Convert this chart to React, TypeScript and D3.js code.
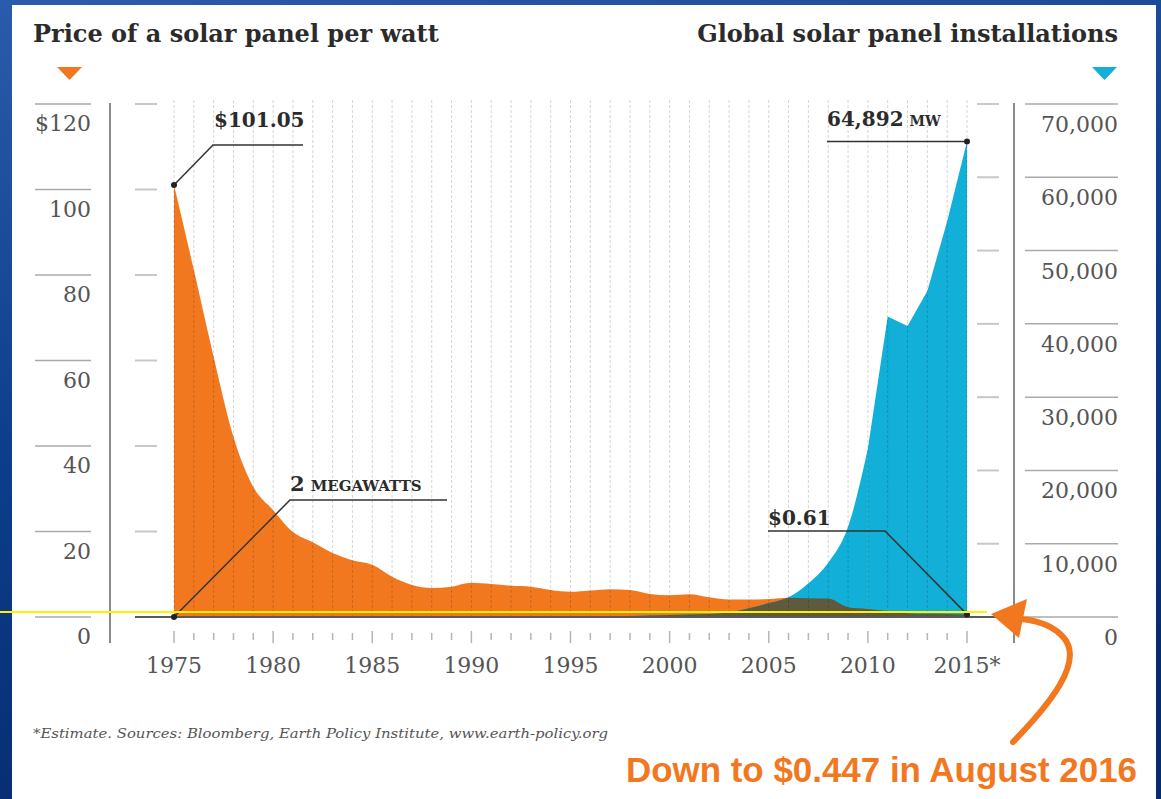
import React from 'react';
import * as d3 from 'd3';

// chart data
const years = [
  1975, 1976, 1977, 1978, 1979, 1980, 1981, 1982, 1983, 1984,
  1985, 1986, 1987, 1988, 1989, 1990, 1991, 1992, 1993, 1994,
  1995, 1996, 1997, 1998, 1999, 2000, 2001, 2002, 2003, 2004,
  2005, 2006, 2007, 2008, 2009, 2010, 2011, 2012, 2013, 2014, 2015,
];

// price per watt, US$
const pricePerWatt = [
  101.05, 81.2, 60.8, 42.1, 30.4, 25.0, 19.9, 17.5, 15.0, 13.3,
  12.2, 9.4, 7.5, 6.8, 7.1, 8.0, 7.7, 7.3, 7.1, 6.3,
  5.9, 6.2, 6.5, 6.3, 5.4, 5.1, 5.3, 4.6, 4.1, 4.1,
  4.2, 4.5, 4.4, 4.3, 2.3, 1.9, 1.4, 0.9, 0.75, 0.7, 0.61,
];

// global installations, MW
const installedMW = [
  2, 3, 4, 5, 6, 7, 9, 12, 16, 19,
  23, 26, 30, 34, 40, 46, 55, 58, 60, 69,
  78, 89, 126, 153, 201, 277, 350, 400, 650, 1200,
  1900, 2700, 4600, 7400, 12300, 23000, 41000, 39700, 44500, 54000, 64892,
];

const leftTicks = [0, 20, 40, 60, 80, 100, 120];
const rightTicks = [0, 10000, 20000, 30000, 40000, 50000, 60000, 70000];
const yearLabels = [1975, 1980, 1985, 1990, 1995, 2000, 2005, 2010, 2015];

const ORANGE = '#f2781f';
const CYAN = '#12b0d8';
const OLIVE = '#5d5a3d';
const SERIF = '"DejaVu Serif", serif';

const App = () => {
  const W = 1161;
  const H = 799;

  const x = d3.scaleLinear().domain([1975, 2015]).range([174, 967]);
  const yL = d3.scaleLinear().domain([0, 120]).range([617, 104]);
  const yR = d3.scaleLinear().domain([0, 70000]).range([617, 104]);

  const rows = years.map((yr, i) => ({ yr, price: pricePerWatt[i], mw: installedMW[i] }));

  const priceArea = d3.area<any>()
    .x(d => x(d.yr))
    .y0(yL(0))
    .y1(d => yL(d.price))
    .curve(d3.curveMonotoneX)(rows) as string;

  // installations: smooth growth up to 2010, then straight year-to-year segments
  const mwSmooth = d3.area<any>()
    .x(d => x(d.yr))
    .y0(yR(0))
    .y1(d => yR(d.mw))
    .curve(d3.curveMonotoneX)(rows.filter(d => d.yr <= 2010)) as string;
  const mwSharp = d3.area<any>()
    .x(d => x(d.yr))
    .y0(yR(0))
    .y1(d => yR(d.mw))(rows.filter(d => d.yr >= 2010)) as string;

  const fmt = d3.format(',');
  const last = rows[rows.length - 1];
  const first = rows[0];

  // annotation anchor points
  const pStart = { x: x(first.yr), y: yL(first.price) };
  const mStart = { x: x(first.yr), y: yR(first.mw) };
  const mEnd = { x: x(last.yr), y: yR(last.mw) };
  const pEnd = { x: x(last.yr), y: yL(last.price) };

  return (
    <div style={{ position: 'absolute', left: 0, top: 0 }}>
      <svg width={W} height={H} style={{ display: 'block' }}>
        <defs>
          <linearGradient id="bgGrad" x1="0" y1="0" x2="0.3" y2="1">
            <stop offset="0" stopColor="#2a5cab" />
            <stop offset="0.5" stopColor="#0d3f8c" />
            <stop offset="1" stopColor="#062c6e" />
          </linearGradient>
          <clipPath id="cyanClip">
            <path d={mwSmooth} />
            <path d={mwSharp} />
          </clipPath>
        </defs>

        {/* blue frame + white panel */}
        <rect x={0} y={0} width={W} height={H} fill="url(#bgGrad)" />
        <rect x={12} y={5} width={1144} height={H - 5} fill="#fff" />

        {/* titles */}
        <text x={33} y={42} fontFamily={SERIF} fontWeight="bold" fontSize={24} fill="#2b2b2b">
          Price of a solar panel per watt
        </text>
        <text x={1118} y={42} textAnchor="end" fontFamily={SERIF} fontWeight="bold" fontSize={24} fill="#2b2b2b">
          Global solar panel installations
        </text>
        <path d="M57,67 L82,67 L69.5,80 Z" fill={ORANGE} />
        <path d="M1092,67 L1117,67 L1104.5,80 Z" fill={CYAN} />

        {/* left axis */}
        <line x1={110} x2={110} y1={103} y2={643} stroke="#8a8a8a" strokeWidth={2} />
        {leftTicks.map(t => (
          <g key={'l' + t}>
            <line x1={35} x2={91} y1={yL(t)} y2={yL(t)} stroke="#aaa" strokeWidth={1.5} />
            {t > 0 && <line x1={135} x2={157} y1={yL(t)} y2={yL(t)} stroke="#c8c8c8" strokeWidth={2} />}
            <text x={91} y={yL(t) + 27} textAnchor="end" fontFamily={SERIF} fontSize={22} fill="#555">
              {t === 120 ? '$120' : t}
            </text>
          </g>
        ))}

        {/* right axis */}
        <line x1={1014} x2={1014} y1={103} y2={643} stroke="#8a8a8a" strokeWidth={2} />
        {rightTicks.map(t => (
          <g key={'r' + t}>
            <line x1={1025} x2={1118} y1={yR(t)} y2={yR(t)} stroke="#aaa" strokeWidth={1.5} />
            {t > 0 && <line x1={977} x2={999} y1={yR(t)} y2={yR(t)} stroke="#c8c8c8" strokeWidth={2} />}
            <text x={1118} y={yR(t) + 28} textAnchor="end" fontFamily={SERIF} fontSize={22} fill="#555">
              {fmt(t)}
            </text>
          </g>
        ))}

        {/* areas */}
        <path d={priceArea} fill={ORANGE} />
        <path d={mwSmooth} fill={CYAN} />
        <path d={mwSharp} fill={CYAN} />
        <path d={priceArea} fill={OLIVE} clipPath="url(#cyanClip)" />

        {/* yearly grid */}
        {years.map(yr => (
          <line key={'g' + yr} x1={x(yr)} x2={x(yr)} y1={100} y2={616}
            stroke="#000" strokeOpacity={0.17} strokeWidth={1} strokeDasharray="3,2" />
        ))}

        {/* baseline + year ticks */}
        <line x1={135} x2={1000} y1={617} y2={617} stroke="#5a5a5a" strokeWidth={2} />
        {years.map(yr => {
          const major = yearLabels.includes(yr);
          return (
            <line key={'t' + yr} x1={x(yr)} x2={x(yr)} y1={major ? 631 : 633} y2={major ? 643 : 640}
              stroke="#b5b5b5" strokeWidth={1.5} />
          );
        })}
        {yearLabels.map(yr => (
          <text key={'y' + yr} x={x(yr)} y={673} textAnchor="middle" fontFamily={SERIF} fontSize={22} fill="#555">
            {yr === 2015 ? '2015*' : yr}
          </text>
        ))}

        {/* annotations */}
        <g stroke="#333" strokeWidth={1.5} fill="none">
          <polyline points={`${pStart.x},${pStart.y} 213,145 303,145`} />
          <polyline points={`${mStart.x},${mStart.y} 290,500 447,500`} />
          <polyline points={`827,${mEnd.y} ${mEnd.x},${mEnd.y}`} />
          <polyline points={`768,531 885,531 ${pEnd.x},${pEnd.y}`} />
        </g>
        {[pStart, mStart, mEnd, pEnd].map((p, i) => (
          <circle key={'d' + i} cx={p.x} cy={p.y} r={3} fill="#222" />
        ))}
        <text x={214} y={127} fontFamily={SERIF} fontWeight="bold" fontSize={20} fill="#2b2b2b">$101.05</text>
        <text x={827} y={126} fontFamily={SERIF} fontWeight="bold" fontSize={20} fill="#2b2b2b">
          64,892<tspan fontSize={14} dx={6}>MW</tspan>
        </text>
        <text x={290} y={491} fontFamily={SERIF} fontWeight="bold" fontSize={21} fill="#2b2b2b">
          2<tspan fontSize={15} dx={6}>MEGAWATTS</tspan>
        </text>
        <text x={768} y={525} fontFamily={SERIF} fontWeight="bold" fontSize={20} fill="#2b2b2b">$0.61</text>

        {/* footnote */}
        <text x={33} y={738} fontFamily={SERIF} fontStyle="italic" fontSize={13} fill="#555"
          textLength={575} lengthAdjust="spacingAndGlyphs">
          *Estimate. Sources: Bloomberg, Earth Policy Institute, www.earth-policy.org
        </text>

        {/* yellow marker line */}
        <line x1={0} x2={987} y1={612} y2={612} stroke="#fff200" strokeWidth={2} />

        {/* orange callout */}
        <path d="M1013,742 C1050,704 1084,662 1064,638 C1054,626 1040,621 1022,619"
          fill="none" stroke={ORANGE} strokeWidth={6} strokeLinecap="round" />
        <path d="M991,614 L1027,599 L1019,638 Z" fill={ORANGE} />
        <text x={626} y={782} fontFamily='"Liberation Sans", Arial, sans-serif' fontWeight="bold" fontSize={35}
          fill={ORANGE} textLength={511} lengthAdjust="spacingAndGlyphs">
          Down to $0.447 in August 2016
        </text>
      </svg>
    </div>
  );
};

export default App;
